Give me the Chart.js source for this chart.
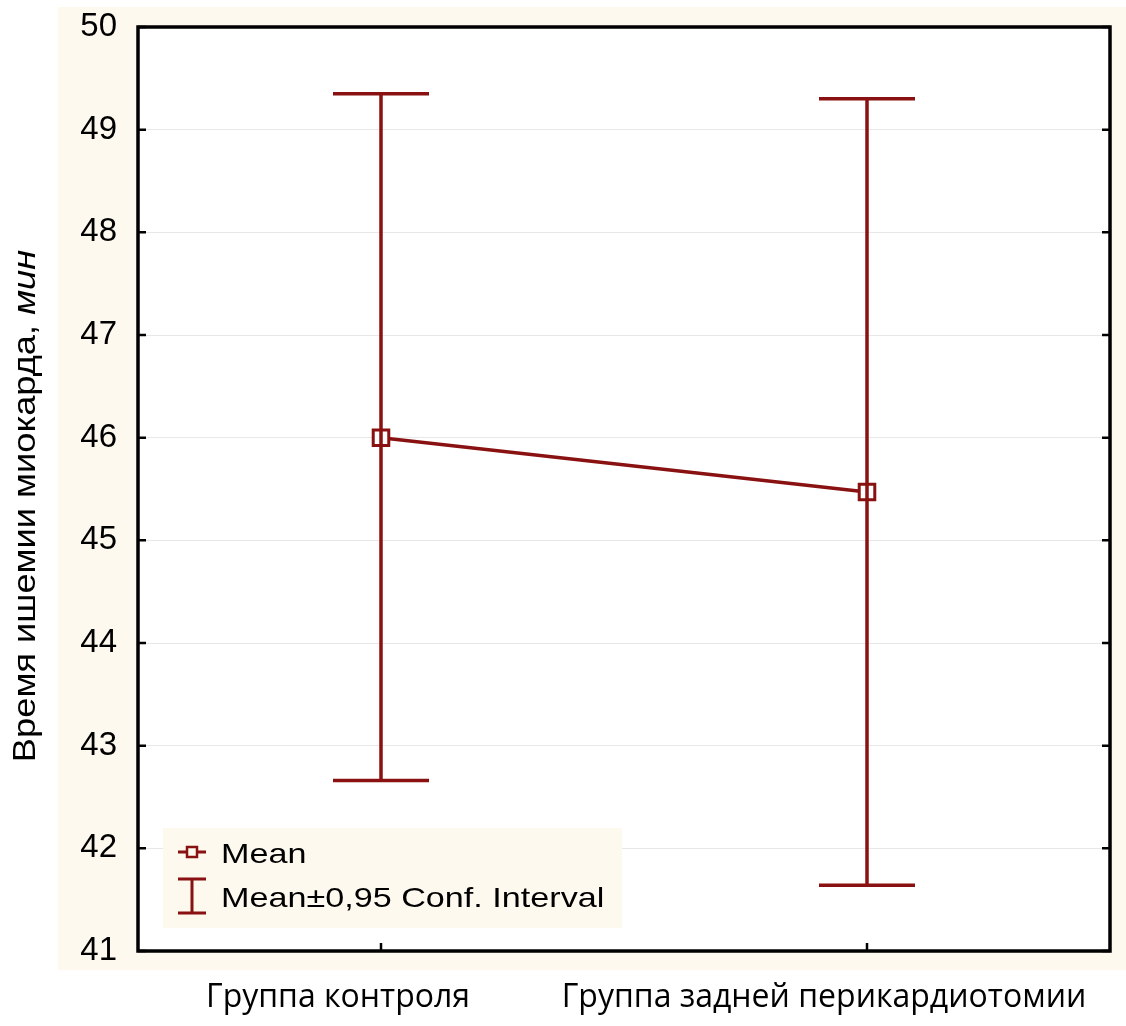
<!DOCTYPE html>
<html lang="ru">
<head>
<meta charset="utf-8">
<title>Время ишемии миокарда</title>
<script src="https://cdn.jsdelivr.net/npm/chart.js@4.4.1/dist/chart.umd.min.js"></script>
<style>
  html, body { margin: 0; padding: 0; background: #ffffff; }
  #wrap { width: 1126px; height: 1026px; position: relative; }
</style>
</head>
<body>
<div id="wrap"><canvas id="chart"></canvas></div>
<script>
// Groups on the x axis
const categories = ['Группа контроля', 'Группа задней перикардиотомии'];
// Group means and 95% confidence limits, minutes
const meanValues = [46.0, 45.47];
const ciLower = [42.66, 41.64];
const ciUpper = [49.35, 49.30];
// Value axis range and step
const yMin = 41;
const yMax = 50;
const yStep = 1;
// Text
const axisTitleMain = 'Время ишемии миокарда, ';
const axisTitleUnit = 'мин';
const legendLabels = ['Mean', 'Mean±0,95 Conf. Interval'];

const RED = '#8a1111';
const CREAM = '#fdf9ef';
const SANS = '"Liberation Sans", Arial, sans-serif';

// Wide-set text: draws a string stretched along its own direction
function wideText(ctx, text, x, y, sx) {
  ctx.save();
  ctx.translate(x, y);
  ctx.scale(sx, 1);
  ctx.fillText(text, 0, 0);
  ctx.restore();
}

// Cream panel behind the plot and a white plotting area
const backdrop = {
  id: 'backdrop',
  beforeDraw(chart) {
    const { ctx, chartArea: a, width, height } = chart;
    ctx.save();
    ctx.fillStyle = '#ffffff';
    ctx.fillRect(0, 0, width, height);
    ctx.fillStyle = CREAM;
    ctx.fillRect(a.left - 80, a.top - 20, width - (a.left - 80), a.bottom + 19 - (a.top - 20));
    ctx.fillStyle = '#ffffff';
    ctx.fillRect(a.left, a.top, a.right - a.left, a.bottom - a.top);
    ctx.restore();
  }
};

// Whiskers with caps for the confidence intervals
const errorBars = {
  id: 'errorBars',
  afterDatasetsDraw(chart) {
    const { ctx, scales: { x, y } } = chart;
    const capHalf = 48;
    ctx.save();
    ctx.strokeStyle = RED;
    ctx.lineWidth = 3.5;
    ctx.lineCap = 'butt';
    categories.forEach((c, i) => {
      const px = x.getPixelForValue(i);
      const yl = y.getPixelForValue(ciLower[i]);
      const yu = y.getPixelForValue(ciUpper[i]);
      ctx.beginPath();
      ctx.moveTo(px, yu); ctx.lineTo(px, yl);
      ctx.moveTo(px - capHalf, yu); ctx.lineTo(px + capHalf, yu);
      ctx.moveTo(px - capHalf, yl); ctx.lineTo(px + capHalf, yl);
      ctx.stroke();
    });
    ctx.restore();
  }
};

// Frame, inner tick marks, legend box and the value-axis title
const frame = {
  id: 'frame',
  afterDraw(chart) {
    const { ctx, chartArea: a, scales: { x, y } } = chart;
    ctx.save();
    ctx.strokeStyle = '#000000';
    ctx.lineWidth = 2.5;
    ctx.beginPath();
    y.ticks.forEach(t => {
      const py = y.getPixelForValue(t.value);
      ctx.moveTo(a.left, py); ctx.lineTo(a.left + 8, py);
      ctx.moveTo(a.right, py); ctx.lineTo(a.right - 8, py);
    });
    categories.forEach((c, i) => {
      const px = x.getPixelForValue(i);
      ctx.moveTo(px, a.bottom); ctx.lineTo(px, a.bottom - 8);
    });
    ctx.stroke();
    ctx.lineWidth = 3.5;
    ctx.strokeRect(a.left, a.top, a.right - a.left, a.bottom - a.top);

    // legend
    const lx = a.left + 25, ly = a.bottom - 123, lw = 459, lh = 100;
    ctx.fillStyle = CREAM;
    ctx.fillRect(lx, ly, lw, lh);
    ctx.strokeStyle = RED;
    ctx.lineWidth = 3;
    const sx = lx + 29;
    const r1 = ly + 24, r2 = ly + 68;
    ctx.beginPath();
    ctx.moveTo(sx - 14, r1); ctx.lineTo(sx + 14, r1);
    ctx.stroke();
    ctx.fillStyle = CREAM;
    ctx.fillRect(sx - 5, r1 - 5, 10, 10);
    ctx.lineWidth = 2.5;
    ctx.strokeRect(sx - 5, r1 - 5, 10, 10);
    ctx.lineWidth = 3;
    ctx.beginPath();
    ctx.moveTo(sx, r2 - 17); ctx.lineTo(sx, r2 + 17);
    ctx.moveTo(sx - 14, r2 - 17); ctx.lineTo(sx + 14, r2 - 17);
    ctx.moveTo(sx - 14, r2 + 17); ctx.lineTo(sx + 14, r2 + 17);
    ctx.stroke();
    ctx.fillStyle = '#000000';
    ctx.font = '28px ' + SANS;
    ctx.textBaseline = 'alphabetic';
    ctx.textAlign = 'left';
    wideText(ctx, legendLabels[0], lx + 58, r1 + 11, 1.22);
    wideText(ctx, legendLabels[1], lx + 58, r2 + 11, 1.22);

    // value-axis title, unit in italics
    const stretch = 1.17;
    const fontMain = '31px ' + SANS;
    const fontUnit = 'italic 31px ' + SANS;
    ctx.font = fontMain;
    const w1 = ctx.measureText(axisTitleMain).width;
    ctx.font = fontUnit;
    const w2 = ctx.measureText(axisTitleUnit).width;
    ctx.translate(35, (a.top + a.bottom) / 2 + 17);
    ctx.rotate(-Math.PI / 2);
    ctx.scale(stretch, 1);
    const start = -(w1 + w2) / 2;
    ctx.font = fontMain;
    ctx.fillText(axisTitleMain, start, 0);
    ctx.font = fontUnit;
    ctx.fillText(axisTitleUnit, start + w1, 0);
    ctx.restore();
  }
};

new Chart(document.getElementById('chart'), {
  type: 'line',
  data: {
    labels: categories,
    datasets: [{
      label: legendLabels[0],
      data: meanValues,
      borderColor: RED,
      borderWidth: 3.5,
      pointStyle: 'rect',
      pointRadius: 11,
      pointHoverRadius: 11,
      pointBorderWidth: 3,
      pointBackgroundColor: '#ffffff',
      pointBorderColor: RED,
      tension: 0
    }]
  },
  options: {
    responsive: true,
    maintainAspectRatio: false,
    animation: false,
    layout: { padding: { left: 0, top: 27, right: 16, bottom: 0 } },
    plugins: {
      legend: { display: false },
      tooltip: { enabled: false },
      title: { display: false }
    },
    scales: {
      x: {
        type: 'category',
        offset: true,
        grid: { display: false, drawTicks: false },
        border: { display: false },
        ticks: {
          color: '#000000',
          font: { family: '"Open Sans", sans-serif', size: 32 },
          padding: 28,
          labelOffset: -43,
          maxRotation: 0,
          minRotation: 0,
          autoSkip: false
        },
        afterFit(s) { s.height = 75; s.paddingLeft = 0; s.paddingRight = 0; }
      },
      y: {
        min: yMin,
        max: yMax,
        grid: { color: '#e8e8e8', lineWidth: 1, drawTicks: false },
        border: { display: false },
        ticks: {
          stepSize: yStep,
          color: '#000000',
          font: { family: SANS, size: 33 },
          padding: 21
        },
        afterFit(s) { s.width = 138; s.paddingTop = 0; s.paddingBottom = 0; }
      }
    }
  },
  plugins: [backdrop, errorBars, frame]
});
</script>
</body>
</html>
